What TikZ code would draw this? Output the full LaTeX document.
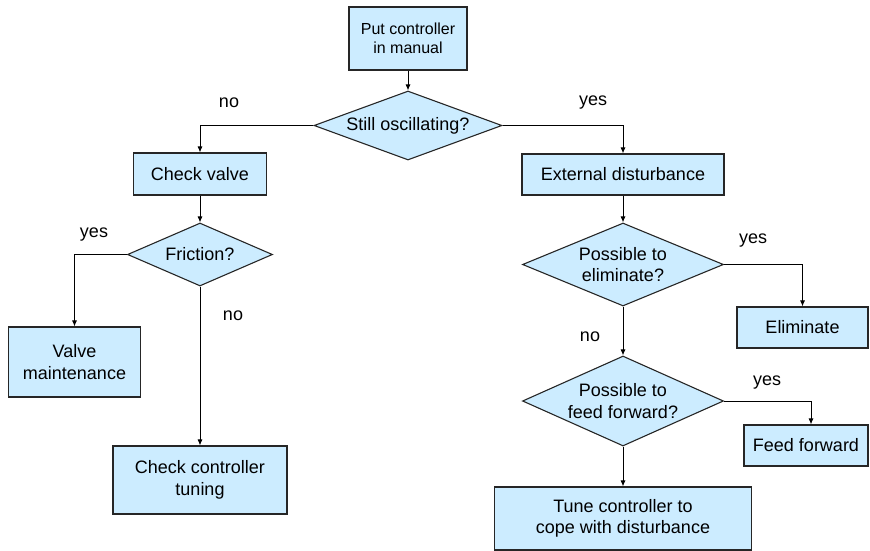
\documentclass[tikz,border=0pt]{standalone}
\usepackage{fontspec}
\setmainfont{Liberation Sans}
\usetikzlibrary{shapes.geometric,arrows.meta}
\definecolor{boxblue}{HTML}{CCECFF}
\begin{document}
\begin{tikzpicture}[x=1pt,y=-1pt,
  basefont/.style={font=\fontsize{18}{21.5}\selectfont},
  proc/.style={basefont, draw=black!85, fill=boxblue, line width=1.1pt, rectangle, inner sep=0pt, align=center},
  dec/.style={draw=black!85, fill=boxblue, line width=1.1pt, diamond, inner sep=0pt},
  dtext/.style={basefont, align=center, inner sep=0pt},
  lbl/.style={basefont, anchor=base, inner sep=0pt},
  conn/.style={draw=black, line width=0.9pt, -{Latex[length=6pt,width=5pt]}}
]
\useasboundingbox (0,0) rectangle (870,551);

% boxes
\node[proc, minimum width=118, minimum height=63, font=\fontsize{16}{19}\selectfont] (start) at (408,38.5) {Put controller\\in manual};
\node[dec, minimum width=188, minimum height=69] (osc) at (408,125.5) {};
\node[dtext] (osct) at (osc) {Still oscillating?};

\node[proc, minimum width=133, minimum height=42] (cv) at (200,174) {Check valve};
\node[proc, minimum width=202, minimum height=41] (ext) at (623,174.5) {External disturbance};

\node[dec, minimum width=145, minimum height=63] (fric) at (200,254.5) {};
\node[dtext] (frict) at (fric) {Friction?};

\node[proc, minimum width=132, minimum height=70] (vm) at (74.5,362) {Valve\\maintenance};
\node[proc, minimum width=174, minimum height=68] (cct) at (200,480) {Check controller\\tuning};

\node[dec, minimum width=201, minimum height=83] (elq) at (623,264.5) {};
\node[dtext] (elqt) at (elq) {Possible to\\eliminate?};
\node[proc, minimum width=131, minimum height=41] (elim) at (802.5,327.5) {Eliminate};

\node[dec, minimum width=201, minimum height=90] (ffq) at (623,401) {};
\node[dtext] (ffqt) at (ffq) {Possible to\\feed forward?};
\node[proc, minimum width=124, minimum height=41] (ff) at (806,445.5) {Feed forward};

\node[proc, minimum width=257, minimum height=63] (tune) at (623,518.5) {Tune controller to\\cope with disturbance};

% connectors
\draw[conn] (start.south) -- (osc.north);
\draw[conn] (osc.west) -| (cv.north);
\draw[conn] (osc.east) -| (ext.north);
\draw[conn] (cv.south) -- (fric.north);
\draw[conn] (fric.west) -| (vm.north);
\draw[conn] (fric.south) -- (cct.north);
\draw[conn] (ext.south) -- (elq.north);
\draw[conn] (elq.east) -| (elim.north);
\draw[conn] (elq.south) -- (ffq.north);
\draw[conn] (ffq.east) -| ([xshift=5pt]ff.north);
\draw[conn] (ffq.south) -- (tune.north);

% labels
\node[lbl] (l1) at (229,107) {no};
\node[lbl] (l2) at (593,106) {yes};
\node[lbl] (l3) at (94,237) {yes};
\node[lbl] (l4) at (233,320) {no};
\node[lbl] (l5) at (753,243) {yes};
\node[lbl] (l6) at (590,341) {no};
\node[lbl] (l7) at (767,385) {yes};
\end{tikzpicture}
\end{document}
